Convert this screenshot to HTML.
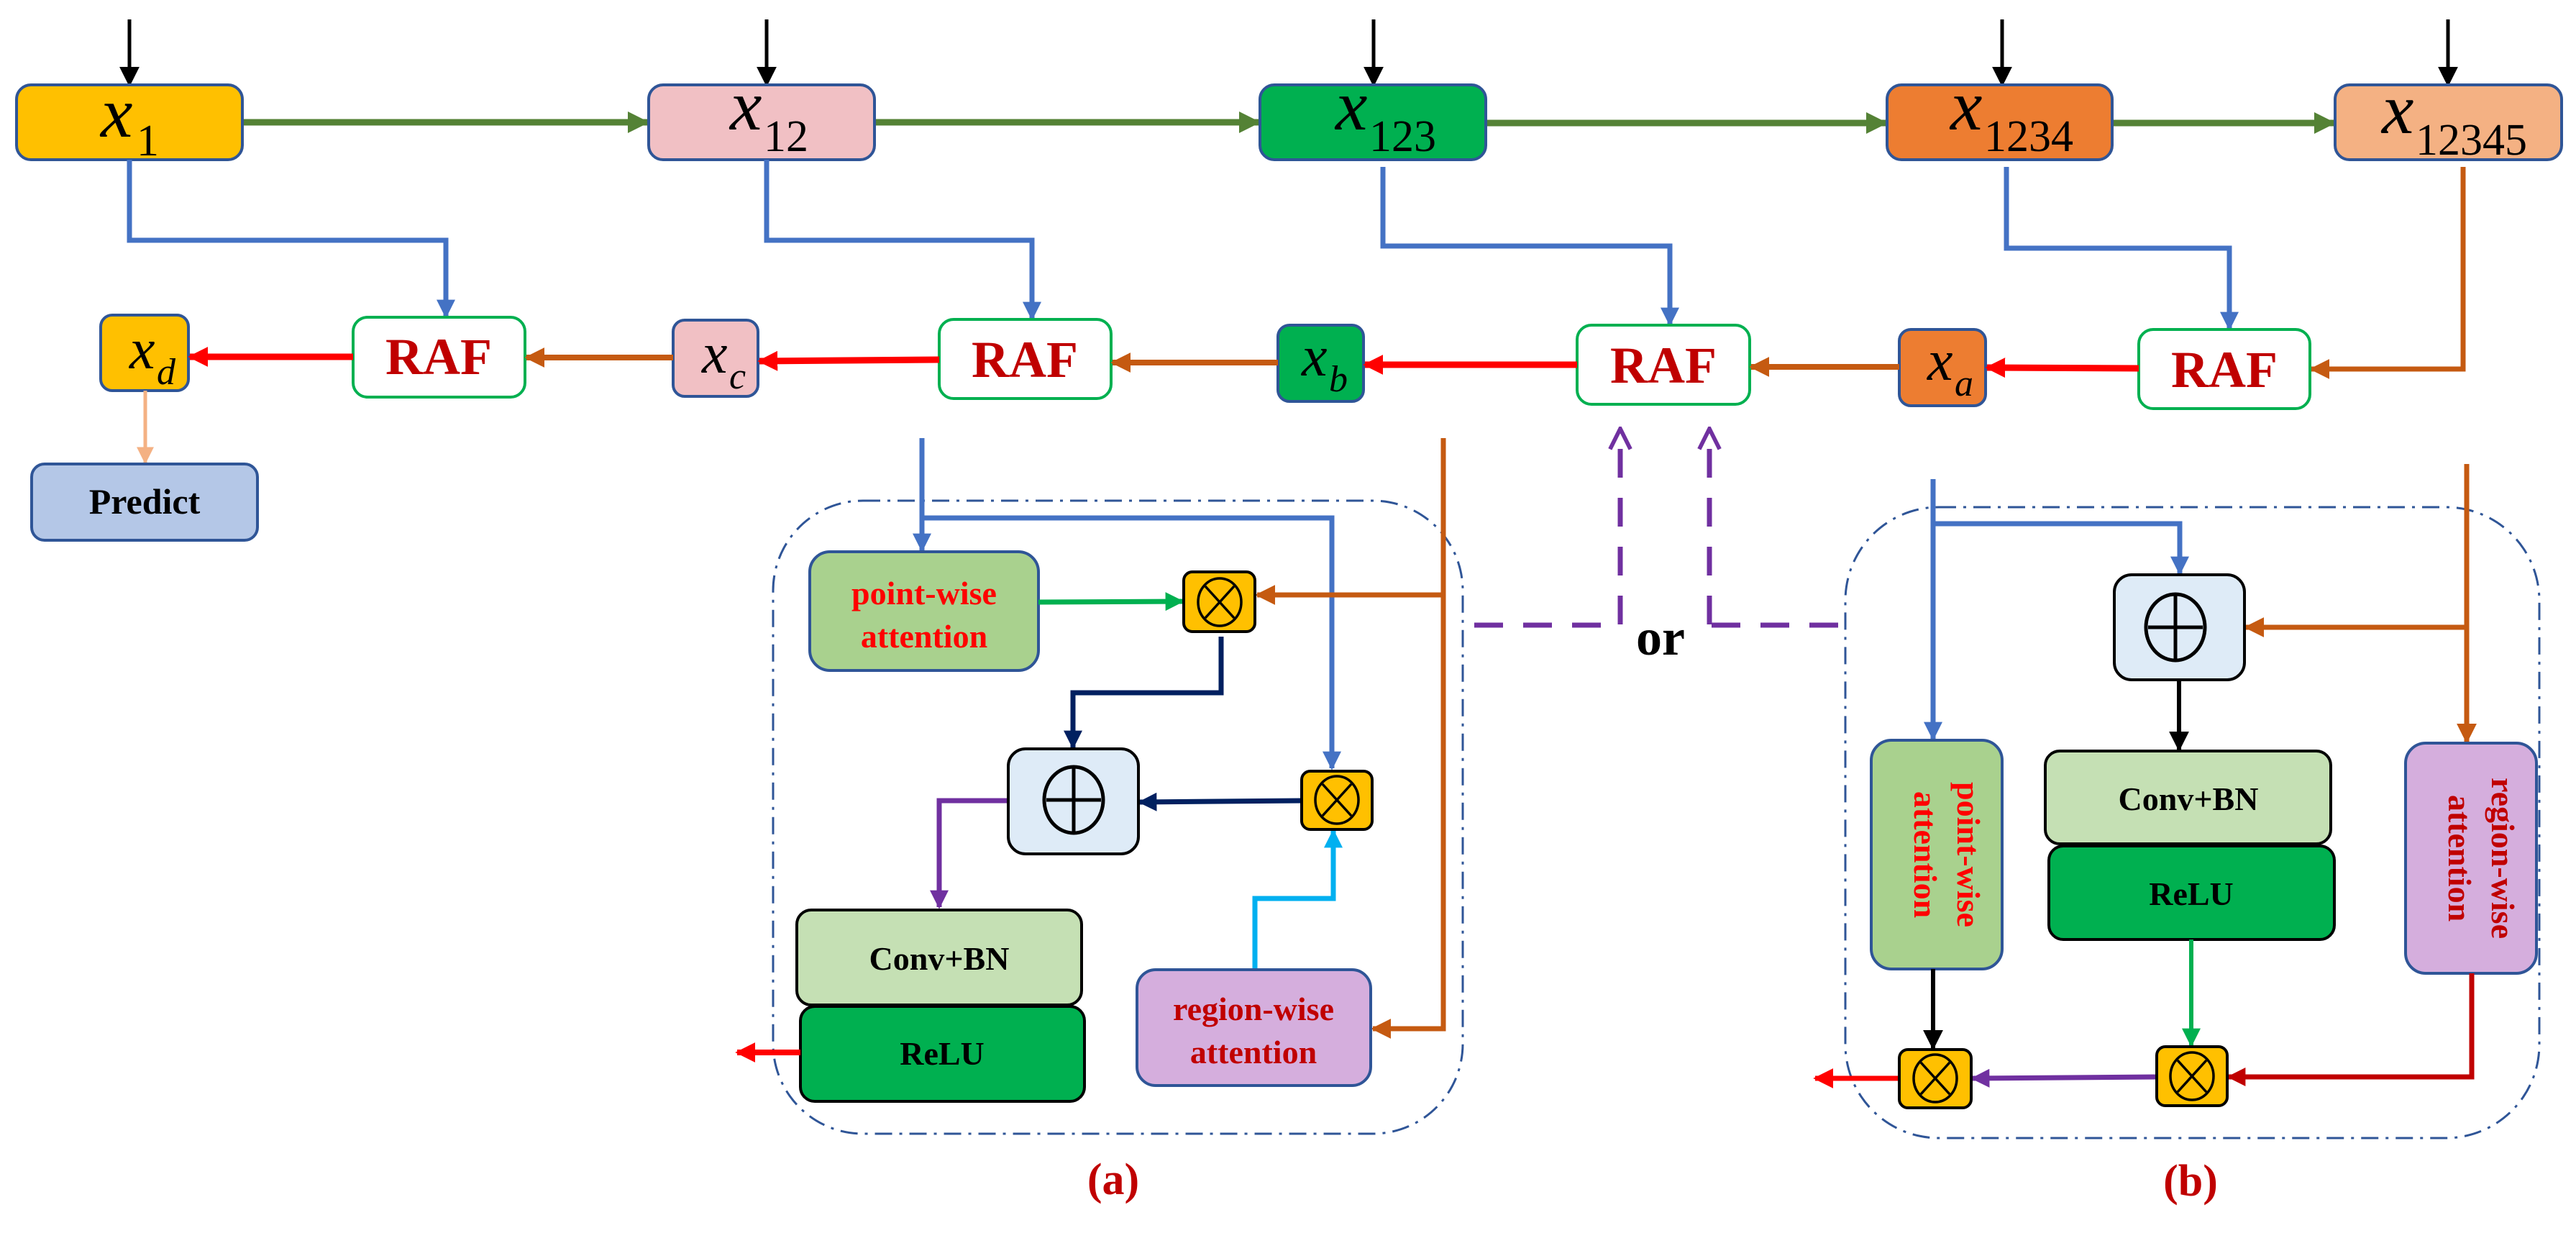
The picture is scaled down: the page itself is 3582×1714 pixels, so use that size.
<!DOCTYPE html>
<html><head><meta charset="utf-8"><style>
html,body{margin:0;padding:0;background:#fff}
svg{display:block}
text{font-family:"Liberation Serif",serif}
.xl{font-style:italic;font-size:100px;font-family:"Liberation Serif",serif}
.sub{font-size:62px;font-family:"Liberation Serif",serif}
.raf{font-weight:bold;font-size:72px;fill:#c00000}
.lbl{font-weight:bold;font-size:46px}
</style></head><body>
<svg width="3582" height="1714" viewBox="0 0 3582 1714" xmlns="http://www.w3.org/2000/svg">
<defs>
<marker id="mk" viewBox="0 0 10 10" refX="9" refY="5" markerWidth="28" markerHeight="28" markerUnits="userSpaceOnUse" orient="auto"><path d="M0,0L10,5L0,10z" fill="#000"/></marker>
<marker id="mg" viewBox="0 0 10 10" refX="9" refY="5" markerWidth="30" markerHeight="30" markerUnits="userSpaceOnUse" orient="auto"><path d="M0,0L10,5L0,10z" fill="#548235"/></marker>
<marker id="mb" viewBox="0 0 10 10" refX="9" refY="5" markerWidth="26" markerHeight="26" markerUnits="userSpaceOnUse" orient="auto"><path d="M0,0L10,5L0,10z" fill="#4472c4"/></marker>
<marker id="mr" viewBox="0 0 10 10" refX="9" refY="5" markerWidth="28" markerHeight="28" markerUnits="userSpaceOnUse" orient="auto"><path d="M0,0L10,5L0,10z" fill="#ff0000"/></marker>
<marker id="mo" viewBox="0 0 10 10" refX="9" refY="5" markerWidth="28" markerHeight="28" markerUnits="userSpaceOnUse" orient="auto"><path d="M0,0L10,5L0,10z" fill="#c55a11"/></marker>
<marker id="ms" viewBox="0 0 10 10" refX="9" refY="5" markerWidth="24" markerHeight="24" markerUnits="userSpaceOnUse" orient="auto"><path d="M0,0L10,5L0,10z" fill="#f4b183"/></marker>
<marker id="mgr" viewBox="0 0 10 10" refX="9" refY="5" markerWidth="26" markerHeight="26" markerUnits="userSpaceOnUse" orient="auto"><path d="M0,0L10,5L0,10z" fill="#00b050"/></marker>
<marker id="mn" viewBox="0 0 10 10" refX="9" refY="5" markerWidth="26" markerHeight="26" markerUnits="userSpaceOnUse" orient="auto"><path d="M0,0L10,5L0,10z" fill="#002060"/></marker>
<marker id="mp" viewBox="0 0 10 10" refX="9" refY="5" markerWidth="26" markerHeight="26" markerUnits="userSpaceOnUse" orient="auto"><path d="M0,0L10,5L0,10z" fill="#7030a0"/></marker>
<marker id="mc" viewBox="0 0 10 10" refX="9" refY="5" markerWidth="26" markerHeight="26" markerUnits="userSpaceOnUse" orient="auto"><path d="M0,0L10,5L0,10z" fill="#00b0f0"/></marker>
<marker id="md" viewBox="0 0 10 10" refX="9" refY="5" markerWidth="26" markerHeight="26" markerUnits="userSpaceOnUse" orient="auto"><path d="M0,0L10,5L0,10z" fill="#c00000"/></marker>
<marker id="mpo" viewBox="0 0 12 12" refX="6" refY="1" markerWidth="34" markerHeight="34" markerUnits="userSpaceOnUse" orient="0"><path d="M1,11L6,1L11,11" fill="none" stroke="#7030a0" stroke-width="2"/></marker>
</defs>

<g stroke="#000" stroke-width="5" fill="none" marker-end="url(#mk)">
<line x1="180" y1="27" x2="180" y2="118"/>
<line x1="1066" y1="27" x2="1066" y2="118"/>
<line x1="1910" y1="27" x2="1910" y2="118"/>
<line x1="2784" y1="27" x2="2784" y2="118"/>
<line x1="3404" y1="27" x2="3404" y2="118"/>
</g>
<g stroke="#548235" stroke-width="9" fill="none" marker-end="url(#mg)">
<line x1="338" y1="170" x2="900" y2="170"/>
<line x1="1216" y1="170" x2="1750" y2="170"/>
<line x1="2066" y1="171" x2="2622" y2="171"/>
<line x1="2937" y1="171" x2="3245" y2="171"/>
</g>
<g stroke="#2f5597" stroke-width="4">
<rect x="23" y="118" width="314" height="104" rx="20" fill="#ffc000"/>
<rect x="902" y="118" width="314" height="104" rx="20" fill="#f1c0c4"/>
<rect x="1752" y="118" width="314" height="104" rx="20" fill="#00b050"/>
<rect x="2624" y="118" width="313" height="104" rx="20" fill="#ed7d31"/>
<rect x="3247" y="118" width="315" height="104" rx="20" fill="#f4b183"/>
</g>
<text x="140" y="190" class="xl" font-family="Liberation Serif, serif">x</text><text x="190" y="216" class="sub" font-family="Liberation Serif, serif">1</text>
<text x="1015" y="180" class="xl" font-family="Liberation Serif, serif">x</text><text x="1062" y="210" class="sub" font-family="Liberation Serif, serif">12</text>
<text x="1857" y="180" class="xl" font-family="Liberation Serif, serif">x</text><text x="1904" y="210" class="sub" font-family="Liberation Serif, serif">123</text>
<text x="2712" y="180" class="xl" font-family="Liberation Serif, serif">x</text><text x="2759" y="210" class="sub" font-family="Liberation Serif, serif">1234</text>
<text x="3312" y="185" class="xl" font-family="Liberation Serif, serif">x</text><text x="3359" y="215" class="sub" font-family="Liberation Serif, serif">12345</text>

<g stroke="#4472c4" stroke-width="7" fill="none" marker-end="url(#mb)">
<polyline points="180,222 180,334 620,334 620,440"/>
<polyline points="1066,222 1066,334 1435,334 1435,443"/>
<polyline points="1923,232 1923,342 2322,342 2322,451"/>
<polyline points="2790,232 2790,345 3100,345 3100,457"/>
</g>
<polyline points="3425,232 3425,513 3214,513" stroke="#c55a11" stroke-width="7" fill="none" marker-end="url(#mo)"/>

<g stroke="#00b050" stroke-width="4" fill="#fff">
<rect x="491" y="441" width="239" height="111" rx="20"/>
<rect x="1306" y="444" width="239" height="110" rx="20"/>
<rect x="2193" y="452" width="240" height="110" rx="20"/>
<rect x="2974" y="458" width="238" height="110" rx="20"/>
</g>
<text x="610" y="520" class="raf" text-anchor="middle">RAF</text>
<text x="1425" y="524" class="raf" text-anchor="middle">RAF</text>
<text x="2313" y="532" class="raf" text-anchor="middle">RAF</text>
<text x="3093" y="538" class="raf" text-anchor="middle">RAF</text>

<g stroke="#2f5597" stroke-width="4">
<rect x="140" y="438" width="122" height="105" rx="16" fill="#ffc000"/>
<rect x="936" y="445" width="118" height="106" rx="16" fill="#f1c0c4"/>
<rect x="1777" y="452" width="119" height="106" rx="16" fill="#00b050"/>
<rect x="2641" y="458" width="120" height="106" rx="16" fill="#ed7d31"/>
</g>
<text x="180" y="512" class="xl" style="font-size:80px" font-family="Liberation Serif, serif">x</text><text x="218" y="534" class="sub" style="font-size:52px;font-style:italic" font-family="Liberation Serif, serif">d</text>
<text x="976" y="518" class="xl" style="font-size:80px" font-family="Liberation Serif, serif">x</text><text x="1014" y="540" class="sub" style="font-size:52px;font-style:italic" font-family="Liberation Serif, serif">c</text>
<text x="1810" y="522" class="xl" style="font-size:80px" font-family="Liberation Serif, serif">x</text><text x="1848" y="544" class="sub" style="font-size:52px;font-style:italic" font-family="Liberation Serif, serif">b</text>
<text x="2680" y="528" class="xl" style="font-size:80px" font-family="Liberation Serif, serif">x</text><text x="2718" y="550" class="sub" style="font-size:52px;font-style:italic" font-family="Liberation Serif, serif">a</text>

<g stroke="#ff0000" stroke-width="9" fill="none" marker-end="url(#mr)">
<line x1="491" y1="496" x2="264" y2="496"/>
<line x1="1306" y1="500" x2="1056" y2="502"/>
<line x1="2193" y1="507" x2="1898" y2="507"/>
<line x1="2974" y1="512" x2="2763" y2="511"/>
</g>
<g stroke="#c55a11" stroke-width="8" fill="none" marker-end="url(#mo)">
<line x1="936" y1="497" x2="732" y2="497"/>
<line x1="1777" y1="504" x2="1547" y2="504"/>
<line x1="2641" y1="510" x2="2435" y2="510"/>
</g>
<line x1="202" y1="543" x2="202" y2="643" stroke="#f4b183" stroke-width="5" marker-end="url(#ms)"/>
<rect x="44" y="645" width="314" height="106" rx="18" fill="#b4c7e7" stroke="#2f5597" stroke-width="4"/>
<text x="201" y="714" class="lbl" text-anchor="middle" style="font-size:50px">Predict</text>

<g stroke="#7030a0" stroke-width="7" fill="none" stroke-dasharray="40,28">
<line x1="2253" y1="868" x2="2253" y2="596" marker-end="url(#mpo)"/>
<line x1="2377" y1="868" x2="2377" y2="596" marker-end="url(#mpo)"/>
<line x1="2050" y1="869" x2="2238" y2="869"/>
<line x1="2380" y1="869" x2="2566" y2="869"/>
</g>
<text x="2309" y="910" text-anchor="middle" style="font-weight:bold;font-size:72px">or</text>

<rect x="1075" y="696" width="959" height="880" rx="125" fill="none" stroke="#2f5597" stroke-width="3" stroke-dasharray="24,10,4,10"/>
<g stroke="#4472c4" stroke-width="7" fill="none">
<line x1="1282" y1="609" x2="1282" y2="765" marker-end="url(#mb)"/>
<polyline points="1282,720 1852,720 1852,1068" marker-end="url(#mb)"/>
</g>
<g stroke="#c55a11" stroke-width="7" fill="none">
<polyline points="2007,609 2007,1430 1909,1430" marker-end="url(#mo)"/>
<line x1="2007" y1="827" x2="1748" y2="827" marker-end="url(#mo)"/>
</g>
<rect x="1126" y="767" width="318" height="165" rx="28" fill="#a9d18e" stroke="#2f5597" stroke-width="4"/>
<text x="1285" y="840" class="lbl" text-anchor="middle" fill="#ff0000">point-wise</text>
<text x="1285" y="900" class="lbl" text-anchor="middle" fill="#ff0000">attention</text>
<line x1="1444" y1="837" x2="1644" y2="836" stroke="#00b050" stroke-width="7" marker-end="url(#mgr)"/>
<g stroke="#002060" stroke-width="7" fill="none" marker-end="url(#mn)">
<polyline points="1698,885 1698,963 1492,963 1492,1039"/>
<line x1="1810" y1="1113" x2="1585" y2="1115"/>
</g>
<polyline points="1745,1348 1745,1249 1854,1249 1854,1155" stroke="#00b0f0" stroke-width="7" fill="none" marker-end="url(#mc)"/>
<polyline points="1402,1113 1306,1113 1306,1261" stroke="#7030a0" stroke-width="7" fill="none" marker-end="url(#mp)"/>
<rect x="1646" y="795" width="99" height="83" rx="12" fill="#ffc000" stroke="#000" stroke-width="4"/>
<ellipse cx="1696" cy="837" rx="30" ry="33" fill="none" stroke="#000" stroke-width="3.5"/>
<path d="M1676,815L1716,859M1716,815L1676,859" stroke="#000" stroke-width="3.5"/>
<rect x="1810" y="1072" width="98" height="81" rx="12" fill="#ffc000" stroke="#000" stroke-width="4"/>
<ellipse cx="1859" cy="1112" rx="30" ry="33" fill="none" stroke="#000" stroke-width="3.5"/>
<path d="M1839,1090L1879,1134M1879,1090L1839,1134" stroke="#000" stroke-width="3.5"/>
<rect x="1402" y="1041" width="181" height="146" rx="24" fill="#deebf7" stroke="#000" stroke-width="4"/>
<ellipse cx="1493" cy="1112" rx="41" ry="46" fill="none" stroke="#000" stroke-width="5"/>
<path d="M1493,1068V1156M1455,1112H1531" stroke="#000" stroke-width="5"/>
<rect x="1108" y="1265" width="396" height="132" rx="20" fill="#c5e0b4" stroke="#000" stroke-width="4"/>
<rect x="1113" y="1399" width="395" height="132" rx="20" fill="#00b050" stroke="#000" stroke-width="4"/>
<text x="1306" y="1348" class="lbl" text-anchor="middle">Conv+BN</text>
<text x="1310" y="1480" class="lbl" text-anchor="middle">ReLU</text>
<line x1="1113" y1="1463" x2="1025" y2="1463" stroke="#ff0000" stroke-width="8" marker-end="url(#mr)"/>
<rect x="1581" y="1348" width="325" height="161" rx="26" fill="#d5aedd" stroke="#2f5597" stroke-width="4"/>
<text x="1743" y="1418" class="lbl" text-anchor="middle" fill="#c00000">region-wise</text>
<text x="1743" y="1478" class="lbl" text-anchor="middle" fill="#c00000">attention</text>
<text x="1548" y="1660" text-anchor="middle" style="font-weight:bold;font-size:62px;fill:#c00000">(a)</text>

<rect x="2566" y="705" width="965" height="877" rx="130" fill="none" stroke="#2f5597" stroke-width="3" stroke-dasharray="24,10,4,10"/>
<g stroke="#4472c4" stroke-width="7" fill="none" marker-end="url(#mb)">
<line x1="2688" y1="666" x2="2688" y2="1027"/>
<polyline points="2688,728 3031,728 3031,797"/>
</g>
<g stroke="#c55a11" stroke-width="7" fill="none" marker-end="url(#mo)">
<line x1="3430" y1="645" x2="3430" y2="1031"/>
<line x1="3430" y1="872" x2="3123" y2="872"/>
</g>
<rect x="2940" y="799" width="181" height="146" rx="24" fill="#deebf7" stroke="#000" stroke-width="4"/>
<ellipse cx="3025" cy="872" rx="41" ry="46" fill="none" stroke="#000" stroke-width="5"/>
<path d="M3025,828V916M2987,872H3063" stroke="#000" stroke-width="5"/>
<line x1="3030" y1="945" x2="3030" y2="1042" stroke="#000" stroke-width="6" marker-end="url(#mk)"/>
<rect x="2844" y="1044" width="397" height="129" rx="20" fill="#c5e0b4" stroke="#000" stroke-width="4"/>
<rect x="2849" y="1176" width="397" height="130" rx="20" fill="#00b050" stroke="#000" stroke-width="4"/>
<text x="3043" y="1126" class="lbl" text-anchor="middle">Conv+BN</text>
<text x="3047" y="1258" class="lbl" text-anchor="middle">ReLU</text>
<rect x="2602" y="1029" width="182" height="318" rx="28" fill="#a9d18e" stroke="#2f5597" stroke-width="4"/>
<text transform="translate(2722,1188) rotate(90)" class="lbl" text-anchor="middle" fill="#ff0000">point-wise</text>
<text transform="translate(2662,1188) rotate(90)" class="lbl" text-anchor="middle" fill="#ff0000">attention</text>
<rect x="3345" y="1033" width="182" height="320" rx="28" fill="#d5aedd" stroke="#2f5597" stroke-width="4"/>
<text transform="translate(3465,1193) rotate(90)" class="lbl" text-anchor="middle" fill="#c00000">region-wise</text>
<text transform="translate(3405,1193) rotate(90)" class="lbl" text-anchor="middle" fill="#c00000">attention</text>
<line x1="2688" y1="1347" x2="2688" y2="1457" stroke="#000" stroke-width="6" marker-end="url(#mk)"/>
<line x1="3047" y1="1306" x2="3047" y2="1453" stroke="#00b050" stroke-width="6" marker-end="url(#mgr)"/>
<polyline points="3437,1353 3437,1497 3099,1497" stroke="#c00000" stroke-width="7" fill="none" marker-end="url(#md)"/>
<line x1="2999" y1="1497" x2="2743" y2="1499" stroke="#7030a0" stroke-width="7" marker-end="url(#mp)"/>
<line x1="2641" y1="1499" x2="2524" y2="1499" stroke="#ff0000" stroke-width="7" marker-end="url(#mr)"/>
<rect x="2641" y="1459" width="100" height="81" rx="12" fill="#ffc000" stroke="#000" stroke-width="4"/>
<ellipse cx="2691" cy="1499" rx="30" ry="33" fill="none" stroke="#000" stroke-width="3.5"/>
<path d="M2671,1477L2711,1521M2711,1477L2671,1521" stroke="#000" stroke-width="3.5"/>
<rect x="2999" y="1455" width="98" height="82" rx="12" fill="#ffc000" stroke="#000" stroke-width="4"/>
<ellipse cx="3048" cy="1496" rx="30" ry="33" fill="none" stroke="#000" stroke-width="3.5"/>
<path d="M3028,1474L3068,1518M3068,1474L3028,1518" stroke="#000" stroke-width="3.5"/>
<text x="3046" y="1662" text-anchor="middle" style="font-weight:bold;font-size:62px;fill:#c00000">(b)</text>
</svg>
</body></html>
